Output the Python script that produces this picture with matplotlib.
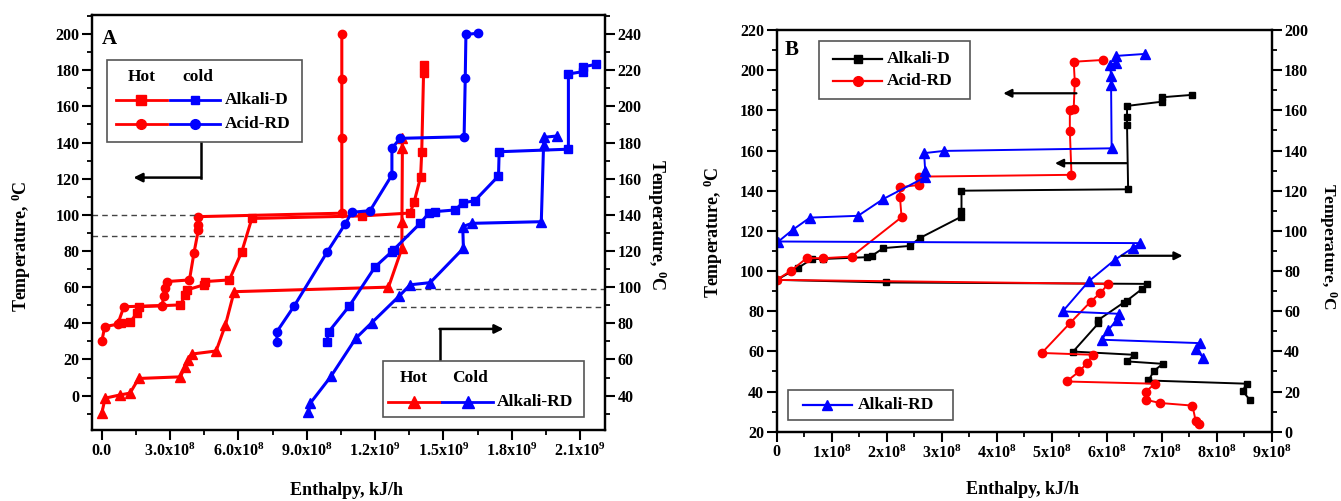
import matplotlib
matplotlib.use('Agg')
import matplotlib.pyplot as plt
from matplotlib.ticker import MultipleLocator
from matplotlib.patches import Rectangle

plt.rcParams['font.family'] = 'Liberation Serif'
plt.rcParams['font.weight'] = 'bold'
plt.rcParams['mathtext.fontset'] = 'custom'
plt.rcParams['mathtext.rm'] = 'Liberation Serif:bold'
plt.rcParams['mathtext.it'] = 'Liberation Serif:bold:italic'
plt.rcParams['mathtext.bf'] = 'Liberation Serif:bold'

# ---------------- panel A: composite curves ----------------
# hot streams (left axis, degC)
hot_alkd_x = [0.85e8, 1.26e8, 1.55e8, 1.62e8, 3.45e8, 3.67e8, 3.75e8, 4.48e8, 4.55e8, 5.6e8,
              6.15e8, 6.59e8, 1.142e9, 1.354e9, 1.372e9, 1.40e9, 1.405e9, 1.413e9, 1.413e9]
hot_alkd_y = [40, 41, 45.6, 49.2, 50.2, 55.7, 58.5, 61.3, 63.1, 64,
              79.7, 98, 99.4, 101, 107.3, 121, 135, 178.3, 182.9]
hot_acid_x = [0, 0.13e8, 0.7e8, 0.97e8, 2.65e8, 2.72e8, 2.79e8, 2.87e8, 3.85e8, 4.05e8,
              4.24e8, 4.24e8, 4.24e8, 1.054e9, 1.054e9, 1.054e9, 1.054e9]
hot_acid_y = [30, 38.2, 39.5, 49.2, 49.8, 55.2, 59.4, 63.1, 64, 79.1,
              91.6, 94.4, 99, 100.9, 142.3, 175, 200]
hot_alkrd_x = [0, 0.145e8, 0.8e8, 1.24e8, 1.62e8, 3.45e8, 3.66e8, 3.8e8, 3.95e8, 5.02e8,
               5.43e8, 5.81e8, 1.259e9, 1.318e9, 1.318e9, 1.32e9, 1.318e9]
hot_alkrd_y = [-9.7, -1.4, 0.4, 1.4, 9.5, 10.4, 16.1, 19.8, 23, 24.7,
               39.1, 57.5, 60, 81.5, 96, 137, 142.3]
# cold streams (right axis, degC)
cold_acid_x = [7.69e8, 7.69e8, 8.45e8, 9.91e8, 1.069e9, 1.098e9, 1.178e9, 1.274e9, 1.274e9,
               1.31e9, 1.591e9, 1.596e9, 1.599e9, 1.651e9]
cold_acid_y = [69.9, 75.4, 89.6, 119.7, 135, 141.4, 142.3, 162, 176.8,
               182.3, 183.2, 215.5, 239.8, 240.4]
cold_alkd_x = [9.88e8, 9.97e8, 1.087e9, 1.2e9, 1.274e9, 1.281e9, 1.398e9, 1.438e9, 1.464e9,
               1.552e9, 1.585e9, 1.637e9, 1.742e9, 1.745e9, 2.049e9, 2.049e9, 2.113e9, 2.115e9, 2.17e9]
cold_alkd_y = [69.9, 75.4, 89.6, 111.2, 119.7, 120.6, 135.3, 141.2, 141.8,
               142.7, 146.7, 147.7, 161.5, 174.9, 176.3, 217.9, 219.2, 221.9, 223.2]
cold_alkrd_x = [9.07e8, 9.16e8, 1.006e9, 1.116e9, 1.186e9, 1.307e9, 1.354e9, 1.442e9, 1.588e9,
                1.585e9, 1.625e9, 1.93e9, 1.94e9, 1.944e9, 1.998e9]
cold_alkrd_y = [30.7, 35.9, 50.6, 71.8, 80.4, 95.2, 101.3, 102.5, 121.5,
                133.5, 135.3, 136.2, 178.6, 182.9, 183.6]

a_xticks = [0, 3e8, 6e8, 9e8, 1.2e9, 1.5e9, 1.8e9, 2.1e9]
a_xlabels = ['0.0', '3.0x10$^{8}$', '6.0x10$^{8}$', '9.0x10$^{8}$',
             '1.2x10$^{9}$', '1.5x10$^{9}$', '1.8x10$^{9}$', '2.1x10$^{9}$']

# ---------------- panel B: grand composite curves ----------------
b_alkd_x = [7.55e8, 7.0e8, 7.0e8, 6.37e8, 6.37e8, 6.37e8, 6.39e8, 3.36e8, 3.36e8, 3.36e8,
            2.6e8, 2.42e8, 1.94e8, 1.73e8, 1.64e8, 0.85e8, 0.64e8, 0.38e8, 0,
            1.99e8, 6.73e8, 6.64e8, 6.37e8, 6.31e8, 5.85e8, 5.85e8, 5.39e8, 6.5e8, 6.37e8,
            7.02e8, 6.86e8, 6.76e8, 8.55e8, 8.47e8, 8.6e8]
b_alkd_y = [187.7, 186.5, 184.3, 182.2, 176.9, 172.7, 140.7, 140, 130.1, 127.1,
            116.4, 112.5, 111.4, 107.6, 106.9, 106, 106, 101.4, 95.6,
            94.3, 93.6, 91, 85.3, 84.3, 75.7, 74, 59.9, 58.3, 55,
            53.8, 50.3, 45.5, 43.9, 40.4, 35.9]
b_acid_x = [5.94e8, 5.4e8, 5.42e8, 5.4e8, 5.33e8, 5.33e8, 5.36e8, 2.59e8, 2.59e8, 2.24e8,
            2.24e8, 2.27e8, 1.36e8, 0.85e8, 0.545e8, 0.26e8, 0,
            6.03e8, 5.88e8, 5.71e8, 5.33e8, 4.82e8, 5.75e8, 5.65e8, 5.5e8, 5.27e8,
            6.88e8, 6.71e8, 6.71e8, 6.97e8, 7.56e8, 7.62e8, 7.68e8]
b_acid_y = [205.1, 204.2, 194.3, 180.7, 180.2, 169.9, 147.9, 147, 142.9, 141.7,
            137.1, 126.8, 107.2, 106.4, 106.4, 100.2, 95.6,
            93.6, 89, 84.8, 74, 59.2, 58.3, 54.4, 50, 45,
            43.9, 40, 35.9, 34.3, 33, 25.1, 24]
b_alkrd_x = [6.70e8, 6.17e8, 6.17e8, 6.06e8, 6.08e8, 6.08e8, 6.09e8, 3.04e8, 2.68e8, 2.70e8,
             2.70e8, 1.94e8, 1.48e8, 0.605e8, 0.29e8, 0.03e8,
             6.61e8, 6.47e8, 6.15e8, 5.67e8, 5.2e8, 6.23e8, 6.18e8, 6.03e8, 5.91e8,
             7.7e8, 7.62e8, 7.76e8]
b_alkrd_y = [208.1, 207.1, 203.7, 202.6, 197.1, 192.6, 161.1, 159.8, 158.7, 150,
             146.7, 135.9, 127.5, 126.6, 120.5, 114.7,
             113.9, 111.4, 105.6, 94.8, 79.9, 78.7, 75.5, 70.7, 65.8,
             64.1, 61.1, 56.7]

b_xticks = [i * 1e8 for i in range(10)]
b_xlabels = ['0'] + ['%dx10$^{8}$' % i for i in range(1, 10)]

ylab = 'Temperature, $^{0}$C'
RED, BLUE = '#ff0000', '#0000ff'


def style_axis(ax):
    ax.tick_params(axis='both', which='major', direction='out', length=7, width=1.5,
                   labelsize=11.5, pad=2)
    ax.tick_params(axis='both', which='minor', direction='out', length=3.5, width=1.3)
    for s in ax.spines.values():
        s.set_linewidth(1.6)


def leg_row(ax, x0, x1, y, color, marker, ms, lw):
    ax.plot([x0, x1], [y, y], color=color, lw=lw, transform=ax.transAxes,
            clip_on=False, zorder=11)
    ax.plot([(x0 + x1) / 2], [y], marker=marker, color=color, ms=ms,
            transform=ax.transAxes, clip_on=False, zorder=12)


fig = plt.figure(figsize=(13.41, 5.01), dpi=100)

# ---- A ----
axA = fig.add_axes([0.0686, 0.1417, 0.3826, 0.8283])
axA2 = axA.twinx()
axA.set_xlim(-0.43e8, 2.21e9)
axA.set_ylim(-19, 210.5)
axA2.set_ylim(21, 250.5)

lwA = 2.2
axA.plot(hot_alkd_x, hot_alkd_y, '-s', color=RED, lw=lwA, ms=5.5)
axA.plot(hot_acid_x, hot_acid_y, '-o', color=RED, lw=lwA, ms=6)
axA.plot(hot_alkrd_x, hot_alkrd_y, '-^', color=RED, lw=lwA, ms=7)
axA2.plot(cold_acid_x, cold_acid_y, '-o', color=BLUE, lw=lwA, ms=6)
axA2.plot(cold_alkd_x, cold_alkd_y, '-s', color=BLUE, lw=lwA, ms=5.5)
axA2.plot(cold_alkrd_x, cold_alkrd_y, '-^', color=BLUE, lw=lwA, ms=7)

# dashed guide lines (left-axis temperatures)
axA.hlines(100, -0.43e8, 4.2e8, colors='#444444', linestyles=(0, (4, 3)), lw=1)
axA.hlines(88.3, -0.43e8, 1.36e9, colors='#444444', linestyles=(0, (4, 3)), lw=1)
axA.hlines(58.9, 1.29e9, 2.21e9, colors='#444444', linestyles=(0, (4, 3)), lw=1)
axA.hlines(49.3, 1.27e9, 2.21e9, colors='#444444', linestyles=(0, (4, 3)), lw=1)

# elbow arrows
axA.plot([4.36e8, 4.36e8], [140.5, 120.6], color='black', lw=1.8)
axA.annotate('', xy=(1.39e8, 120.6), xytext=(4.36e8, 120.6),
             arrowprops=dict(arrowstyle='-|>', color='black', lw=1.8, mutation_scale=13,
                             shrinkA=0, shrinkB=0))
axA.plot([1.483e9, 1.483e9], [19.8, 36.9], color='black', lw=1.8)
axA.annotate('', xy=(1.764e9, 36.9), xytext=(1.483e9, 36.9),
             arrowprops=dict(arrowstyle='-|>', color='black', lw=1.8, mutation_scale=13,
                             shrinkA=0, shrinkB=0))

axA.set_xticks(a_xticks)
axA.set_xticklabels(a_xlabels)
axA.xaxis.set_minor_locator(MultipleLocator(1.5e8))
axA.yaxis.set_major_locator(MultipleLocator(20))
axA.yaxis.set_minor_locator(MultipleLocator(10))
axA2.yaxis.set_major_locator(MultipleLocator(20))
axA2.yaxis.set_minor_locator(MultipleLocator(10))
style_axis(axA)
style_axis(axA2)
axA.tick_params(top=False, which='both')

axA.set_xlabel('Enthalpy, kJ/h', fontsize=13, fontweight='bold')
axA.xaxis.set_label_coords(0.497, -0.125)
axA.set_ylabel(ylab, fontsize=13, fontweight='bold')
axA.yaxis.set_label_coords(-0.115, 0.443)
axA2.set_ylabel(ylab, fontsize=13, fontweight='bold', rotation=270, va='bottom')
axA2.yaxis.set_label_coords(1.078, 0.494)

axA2.text(0.0195, 0.942, 'A', transform=axA2.transAxes, fontsize=15, fontweight='bold',
          va='center', ha='left', zorder=12)

# legend A (upper)
axA2.add_patch(Rectangle((0.0298, 0.695), 0.3802, 0.1966, transform=axA2.transAxes,
                         facecolor='white', edgecolor='#555555', lw=1.2, zorder=10))
axA2.text(0.0967, 0.85, 'Hot', transform=axA2.transAxes, fontsize=12.5, ha='center',
          va='center', zorder=12)
axA2.text(0.207, 0.85, 'cold', transform=axA2.transAxes, fontsize=12.5, ha='center',
          va='center', zorder=12)
leg_row(axA2, 0.0468, 0.1456, 0.795, RED, 's', 7, 2)
leg_row(axA2, 0.152, 0.2495, 0.795, BLUE, 's', 6, 2)
axA2.text(0.2593, 0.795, 'Alkali-D', transform=axA2.transAxes, fontsize=12.5,
          va='center', zorder=12)
leg_row(axA2, 0.0468, 0.1456, 0.737, RED, 'o', 7, 2)
leg_row(axA2, 0.152, 0.2495, 0.737, BLUE, 'o', 7, 2)
axA2.text(0.2593, 0.737, 'Acid-RD', transform=axA2.transAxes, fontsize=12.5,
          va='center', zorder=12)

# legend A (lower)
axA2.add_patch(Rectangle((0.568, 0.0306), 0.39, 0.1354, transform=axA2.transAxes,
                         facecolor='white', edgecolor='#555555', lw=1.2, zorder=10))
axA2.text(0.628, 0.1246, 'Hot', transform=axA2.transAxes, fontsize=12.5, ha='center',
          va='center', zorder=12)
axA2.text(0.737, 0.1246, 'Cold', transform=axA2.transAxes, fontsize=12.5, ha='center',
          va='center', zorder=12)
leg_row(axA2, 0.5776, 0.6784, 0.068, RED, '^', 8, 2)
leg_row(axA2, 0.6817, 0.7823, 0.068, BLUE, '^', 8, 2)
axA2.text(0.789, 0.068, 'Alkali-RD', transform=axA2.transAxes, fontsize=12.5,
          va='center', zorder=12)

# ---- B ----
axB = fig.add_axes([0.5792, 0.1383, 0.3691, 0.8018])
axB2 = axB.twinx()
axB.set_xlim(0, 9e8)
axB.set_ylim(20, 220)
axB2.set_ylim(0, 200)

lwB = 1.4
axB.plot(b_alkd_x, b_alkd_y, '-s', color='black', lw=lwB, ms=5)
axB.plot(b_acid_x, b_acid_y, '-o', color=RED, lw=lwB, ms=6)
axB.plot(b_alkrd_x, b_alkrd_y, '-^', color=BLUE, lw=lwB, ms=6.5)

for xs, xe, y in [(5.45e8, 4.12e8, 188.5), (6.36e8, 5.06e8, 153.7), (6.27e8, 7.38e8, 107.6)]:
    axB.annotate('', xy=(xe, y), xytext=(xs, y),
                 arrowprops=dict(arrowstyle='-|>', color='black', lw=1.6, mutation_scale=12,
                                 shrinkA=0, shrinkB=0))

axB.set_xticks(b_xticks)
axB.set_xticklabels(b_xlabels)
axB.xaxis.set_minor_locator(MultipleLocator(0.5e8))
axB.yaxis.set_major_locator(MultipleLocator(20))
axB.yaxis.set_minor_locator(MultipleLocator(10))
axB2.yaxis.set_major_locator(MultipleLocator(20))
axB2.yaxis.set_minor_locator(MultipleLocator(10))
style_axis(axB)
style_axis(axB2)
axB.tick_params(top=False, which='both')

axB.set_xlabel('Enthalpy, kJ/h', fontsize=13, fontweight='bold')
axB.xaxis.set_label_coords(0.4956, -0.1227)
axB.set_ylabel(ylab, fontsize=13, fontweight='bold')
axB.yaxis.set_label_coords(-0.1044, 0.497)
axB2.set_ylabel(ylab, fontsize=12.5, fontweight='bold', rotation=270, va='bottom')
axB2.yaxis.set_label_coords(1.091, 0.462)

axB2.text(0.017, 0.95, 'B', transform=axB2.transAxes, fontsize=15, fontweight='bold',
          va='center', ha='left', zorder=12)

axB2.add_patch(Rectangle((0.086, 0.8275), 0.3045, 0.1459, transform=axB2.transAxes,
                         facecolor='white', edgecolor='#555555', lw=1.2, zorder=10))
leg_row(axB2, 0.1144, 0.2121, 0.927, 'black', 's', 6, 1.6)
axB2.text(0.2222, 0.927, 'Alkali-D', transform=axB2.transAxes, fontsize=12.5,
          va='center', zorder=12)
leg_row(axB2, 0.1144, 0.2121, 0.8722, RED, 'o', 7, 1.6)
axB2.text(0.2222, 0.8722, 'Acid-RD', transform=axB2.transAxes, fontsize=12.5,
          va='center', zorder=12)

axB2.add_patch(Rectangle((0.0234, 0.029), 0.3322, 0.0748, transform=axB2.transAxes,
                         facecolor='white', edgecolor='#555555', lw=1.2, zorder=10))
leg_row(axB2, 0.0537, 0.1515, 0.0665, BLUE, '^', 7, 1.6)
axB2.text(0.163, 0.0665, 'Alkali-RD', transform=axB2.transAxes, fontsize=12.5,
          va='center', zorder=12)

fig.savefig('out.png', dpi=100)
